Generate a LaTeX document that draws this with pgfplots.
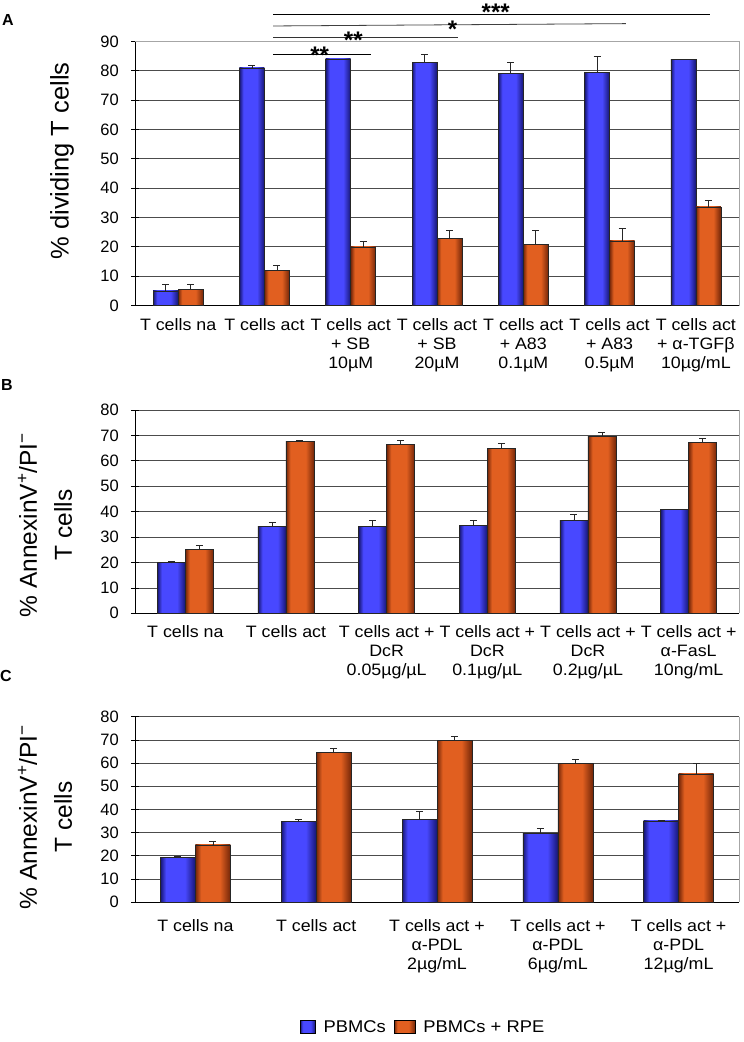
\documentclass[border=0pt]{standalone}
\usepackage{fontspec}
\setmainfont{Liberation Sans}
\newfontfamily\labfont{Liberation Sans}[FakeStretch=1.08]
\usepackage{pgfplots}
\pgfplotsset{compat=1.18}
\definecolor{bdark}{RGB}{22,22,115}
\definecolor{blight}{RGB}{72,72,255}
\definecolor{odark}{RGB}{115,38,8}
\definecolor{olight}{RGB}{225,95,32}
\pgfdeclarehorizontalshading{blueshade}{100bp}{color(0bp)=(bdark); color(25bp)=(bdark); color(33bp)=(blight); color(60bp)=(blight); color(75bp)=(bdark); color(100bp)=(bdark)}
\pgfdeclarehorizontalshading{orangeshade}{100bp}{color(0bp)=(odark); color(25bp)=(odark); color(33bp)=(olight); color(60bp)=(olight); color(75bp)=(odark); color(100bp)=(odark)}
\pgfplotsset{
  panel/.style={
    scale only axis, anchor=south west,
    axis x line*=bottom, axis y line*=left,
    axis line style={black, line width=0.7pt, -},
    tick pos=left,
    ymajorgrids, grid style={black!70, line width=0.7pt},
    tick align=center, major tick length=8pt,
    xtick style={draw=none},
    minor tick length=7pt,
    minor x tick style={black, line width=0.7pt, yshift=-3.5pt},
    ytick style={black, line width=0.7pt},
    xticklabel style={font=\labfont\fontsize{16.5}{19}\selectfont, align=center, anchor=north, inner sep=0pt, yshift=-8pt},
    yticklabel style={font=\fontsize{16.5}{19}\selectfont, inner sep=0pt, xshift=-12pt},
    /pgf/number format/assume math mode=true,
    clip=false,
  },
  bbar/.style={forget plot, ybar, bar width=#1, bar shift=-#1/2, draw=black!85, line width=0.5pt, shade, shading=blueshade},
  obar/.style={forget plot, ybar, bar width=#1, bar shift=#1/2, draw=black!85, line width=0.5pt, shade, shading=orangeshade},
  err/.style={forget plot, only marks, mark=*, mark size=0.01pt, mark options={draw=none, fill=none},
    black!85, line width=0.6pt, xshift=#1,
    error bars/.cd, y dir=plus, y explicit,
    error bar style={draw=black!85, line width=0.6pt},
    error mark options={rotate=90, mark size=3.5pt, draw=black!85, line width=0.6pt}},
}
\begin{document}
\begin{tikzpicture}
\useasboundingbox (0pt,0pt) rectangle (744pt,-1042pt);

% ---------------- Panel A ----------------
\node[font=\fontsize{16}{16}\selectfont\bfseries] at (8pt,-20pt) {A};
\node[rotate=90, font=\fontsize{25.5}{28}\selectfont] at (62pt,-161pt) {\% dividing T cells};
\begin{axis}[panel, at={(135pt,-305.5pt)}, width=604pt, height=264pt,
  xmin=-0.5, xmax=6.5, ymin=0, ymax=90, ytick={0,10,...,90},
  xtick={0,...,6}, minor xtick={-0.5,0.5,...,6.5},
  xticklabel style={yshift=-1pt},
  xticklabels={{T cells na},{T cells act},{T cells act\\+ SB\\10µM},{T cells act\\+ SB\\20µM},{T cells act\\+ A83\\0.1µM},{T cells act\\+ A83\\0.5µM},{T cells act\\+ α-TGFβ\\10µg/mL}}]
% PBMCs
\addplot[bbar=25pt] coordinates {(0,5)};
\addplot[bbar=25pt] coordinates {(1,81)};
\addplot[bbar=25pt] coordinates {(2,84.1)};
\addplot[bbar=25pt] coordinates {(3,82.9)};
\addplot[bbar=25pt] coordinates {(4,79.2)};
\addplot[bbar=25pt] coordinates {(5,79.5)};
\addplot[bbar=25pt] coordinates {(6,83.9)};
% PBMCs + RPE
\addplot[obar=25pt] coordinates {(0,5.5)};
\addplot[obar=25pt] coordinates {(1,12)};
\addplot[obar=25pt] coordinates {(2,20)};
\addplot[obar=25pt] coordinates {(3,22.8)};
\addplot[obar=25pt] coordinates {(4,20.9)};
\addplot[obar=25pt] coordinates {(5,22)};
\addplot[obar=25pt] coordinates {(6,33.6)};
\addplot[err=-12.5pt] coordinates {(0,5) +- (0,2.4) (1,81) +- (0,1.0) (3,82.9) +- (0,2.6) (4,79.2) +- (0,3.7) (5,79.5) +- (0,5.6)};
\addplot[err=12.5pt] coordinates {(0,5.5) +- (0,1.9) (1,12) +- (0,1.6) (2,20) +- (0,2.0) (3,22.8) +- (0,3.0) (4,20.9) +- (0,4.9) (5,22) +- (0,4.4) (6,33.6) +- (0,2.2)};
\draw[black!35, line width=0.7pt] (rel axis cs:0,1) -- (rel axis cs:1,1) -- (rel axis cs:1,0);
\draw[black, line width=0.8pt] (axis cs:1.1,99.4) -- (axis cs:6.16,99.4);
\draw[black!75, line width=0.8pt] (axis cs:1.1,95.3) -- (axis cs:5.19,96.1);
\draw[black!80, line width=0.8pt] (axis cs:1.1,91.3) -- (axis cs:3.24,91.3);
\draw[black, line width=0.8pt] (axis cs:1.1,85.7) -- (axis cs:2.23,85.7);
\node[anchor=base, inner sep=0pt, font=\fontsize{24}{24}\selectfont\bfseries] at (axis cs:3.68,97.2) {***};
\node[anchor=base, inner sep=0pt, font=\fontsize{24}{24}\selectfont\bfseries] at (axis cs:3.18,91.4) {*};
\node[anchor=base, inner sep=0pt, font=\fontsize{24}{24}\selectfont\bfseries] at (axis cs:2.03,87.6) {**};
\node[anchor=base, inner sep=0pt, font=\fontsize{24}{24}\selectfont\bfseries] at (axis cs:1.64,82.5) {**};
\end{axis}

% ---------------- Panel B ----------------
\node[font=\fontsize{16}{16}\selectfont\bfseries] at (7pt,-385pt) {B};
\node[rotate=90, align=center, font=\fontsize{24.5}{35}\selectfont] at (45pt,-525pt) {\% AnnexinV\textsuperscript{+}/PI\textsuperscript{−}\\T cells};
\begin{axis}[panel, at={(135pt,-613.3pt)}, width=604pt, height=203.3pt,
  xmin=-0.5, xmax=5.5, ymin=0, ymax=80, ytick={0,10,...,80},
  xtick={0,...,5}, minor xtick={-0.5,0.5,...,5.5},
  xticklabels={{T cells na},{T cells act},{T cells act +\\DcR\\0.05µg/µL},{T cells act +\\DcR\\0.1µg/µL},{T cells act +\\DcR\\0.2µg/µL},{T cells act +\\α-FasL\\10ng/mL}}]
\addplot[bbar=28pt] coordinates {(0,19.9)};
\addplot[bbar=28pt] coordinates {(1,34.1)};
\addplot[bbar=28pt] coordinates {(2,34.1)};
\addplot[bbar=28pt] coordinates {(3,34.5)};
\addplot[bbar=28pt] coordinates {(4,36.7)};
\addplot[bbar=28pt] coordinates {(5,41.0)};
\addplot[obar=28pt] coordinates {(0,25.2)};
\addplot[obar=28pt] coordinates {(1,67.8)};
\addplot[obar=28pt] coordinates {(2,66.5)};
\addplot[obar=28pt] coordinates {(3,65.0)};
\addplot[obar=28pt] coordinates {(4,69.5)};
\addplot[obar=28pt] coordinates {(5,67.4)};
\addplot[err=-14pt] coordinates {(0,19.9) +- (0,0.7) (1,34.1) +- (0,1.6) (2,34.1) +- (0,2.4) (3,34.5) +- (0,2.0) (4,36.7) +- (0,2.3)};
\addplot[err=14pt] coordinates {(0,25.2) +- (0,1.7) (1,67.8) +- (0,0.4) (2,66.5) +- (0,1.7) (3,65.0) +- (0,2.0) (4,69.5) +- (0,1.6) (5,67.4) +- (0,1.5)};
\draw[black!35, line width=0.7pt] (rel axis cs:1,1) -- (rel axis cs:1,0);
\end{axis}

% ---------------- Panel C ----------------
\node[font=\fontsize{16}{16}\selectfont\bfseries] at (6pt,-676pt) {C};
\node[rotate=90, align=center, font=\fontsize{24.5}{35}\selectfont] at (45pt,-817pt) {\% AnnexinV\textsuperscript{+}/PI\textsuperscript{−}\\T cells};
\begin{axis}[panel, at={(135pt,-902pt)}, width=604pt, height=185.3pt,
  xmin=-0.5, xmax=4.5, ymin=0, ymax=80, ytick={0,10,...,80},
  xtick={0,...,4}, minor xtick={-0.5,0.5,...,4.5},
  xticklabel style={yshift=-5pt},
  xticklabels={{T cells na},{T cells act},{T cells act +\\α-PDL\\2µg/mL},{T cells act +\\α-PDL\\6µg/mL},{T cells act +\\α-PDL\\12µg/mL}},
  legend style={at={(0.477,-0.676)}, anchor=center, draw=none, fill=none,
    font=\labfont\fontsize{17}{17}\selectfont, legend columns=2,
    /tikz/every even column/.append style={column sep=6pt},
    /tikz/every odd column/.append style={column sep=6pt}},
  legend cell align=left]
\addlegendimage{legend image code/.code={\path[draw=black, line width=0.6pt, shade, shading=blueshade] (0pt,-6.5pt) rectangle (15pt,6.5pt);}}
\addlegendentry{PBMCs}
\addlegendimage{legend image code/.code={\path[draw=black, line width=0.6pt, shade, shading=orangeshade] (0pt,-6.5pt) rectangle (21pt,6.5pt);}}
\addlegendentry{PBMCs + RPE}
\addplot[bbar=35pt] coordinates {(0,19.3)};
\addplot[bbar=35pt] coordinates {(1,34.7)};
\addplot[bbar=35pt] coordinates {(2,35.7)};
\addplot[bbar=35pt] coordinates {(3,29.6)};
\addplot[bbar=35pt] coordinates {(4,35.0)};
\addplot[obar=35pt] coordinates {(0,24.7)};
\addplot[obar=35pt] coordinates {(1,64.5)};
\addplot[obar=35pt] coordinates {(2,69.9)};
\addplot[obar=35pt] coordinates {(3,59.9)};
\addplot[obar=35pt] coordinates {(4,55.3)};
\addplot[err=-17.5pt] coordinates {(0,19.3) +- (0,0.6) (1,34.7) +- (0,1.0) (2,35.7) +- (0,3.3) (3,29.6) +- (0,2.2) (4,35.0) +- (0,0.4)};
\addplot[err=17.5pt] coordinates {(0,24.7) +- (0,1.3) (1,64.5) +- (0,1.8) (2,69.9) +- (0,1.8) (3,59.9) +- (0,1.7) (4,55.3) +- (0,4.6)};
\draw[black!35, line width=0.7pt] (rel axis cs:1,1) -- (rel axis cs:1,0);
\end{axis}
\end{tikzpicture}
\end{document}
